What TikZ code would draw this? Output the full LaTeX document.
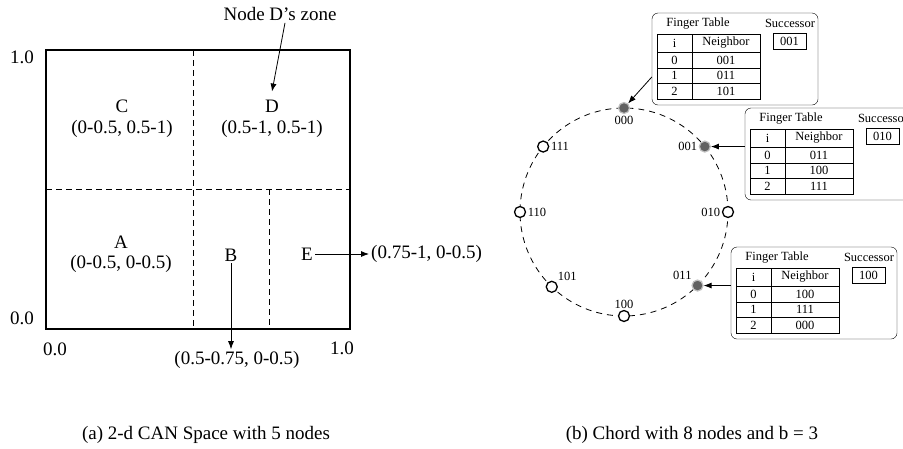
\documentclass[tikz,border=0pt]{standalone}
\usepackage{fontspec}
\setmainfont{Liberation Serif}
\usepackage{tikz}
\usetikzlibrary{arrows.meta}

\tikzset{
	canlbl/.style={font=\fontsize{19}{21}\selectfont, align=center, inner sep=2pt},
	chordlbl/.style={font=\fontsize{12.5}{14}\selectfont, inner sep=1.5pt},
	peer/.style={circle, draw, line width=1.3pt, fill=white, minimum size=11pt, inner sep=0pt},
	active/.style={circle, draw=black!25, line width=1.2pt, fill=black!62, minimum size=11pt, inner sep=0pt},
	ftbox/.style={draw, rounded corners=6pt, fill=white, minimum width=166pt, minimum height=92pt, inner sep=0pt},
	zone/.style={dash pattern=on 6pt off 4pt, line width=0.8pt},
}

\begin{document}
\begin{tikzpicture}[x=1pt,y=-1pt]
		\useasboundingbox (0,0) rectangle (903,448);

		% LEFT: 2-d CAN space
		\begin{scope}
			\draw[line width=1.3pt] (46,50) rectangle (350,329);
			\draw[zone] (193,50) -- (193,329);
			\draw[zone] (46,189) -- (350,189);
			\draw[zone] (269,189) -- (269,329);
			% axis values
			\node[canlbl] (y1) at (22,57) {1.0};
			\node[canlbl] (y0) at (22,318) {0.0};
			\node[canlbl] (x0) at (55,349) {0.0};
			\node[canlbl] (x1) at (342,348) {1.0};
			% zones
			\node[canlbl] (labC) at (122,106) {C};
			\node[canlbl] (rangeC) at (122,129) {(0-0.5, 0.5-1)};
			\node[canlbl] (labD) at (272,106) {D};
			\node[canlbl] (rangeD) at (272,129) {(0.5-1, 0.5-1)};
			\node[canlbl] (labA) at (121,242) {A};
			\node[canlbl] (rangeA) at (121,264) {(0-0.5, 0-0.5)};
			\node[canlbl] (labB) at (231,255) {B};
			\node[canlbl] (rangeB) at (237,360) {(0.5-0.75, 0-0.5)};
			\node[canlbl] (labE) at (307,254) {E};
			\node[canlbl, anchor=west] (rangeE) at (369,254) {(0.75-1, 0-0.5)};
			\node[canlbl] (zoneD) at (280,14) {Node D's zone};
			\draw[-{Latex[length=8pt,width=6pt]}, thick] ([xshift=5pt]zoneD.south) -- ([yshift=6pt]labD.north);
			\draw[-{Latex[length=8pt,width=6pt]}, thick] (labB.south) -- (labB.south |- rangeB.north);
			\draw[-{Latex[length=8pt,width=6pt]}, thick] (labE.east) -- (rangeE.west);
		\end{scope}

		% RIGHT: Chord ring
		\begin{scope}
			\draw[dash pattern=on 6pt off 5pt, line width=0.8pt] (624,212) circle (104pt);
			% ring nodes
			\foreach \id/\ang/\where/\kind in {000/90/below/active, 001/39/left/active, 010/0/left/peer,
				011/-45/above left/active, 100/-90/above/peer, 101/-134/above right/peer,
				110/180/right/peer, 111/141/right/peer}{
				\node[\kind, label={[chordlbl]\where:\id}] (n\id) at ({624+104*cos(\ang)},{212-104*sin(\ang)}) {};
			}
			% finger tables
			\foreach \k/\bx/\by/\succ/\na/\nb/\nc in {1/652/13/001/001/011/101, 2/745/108/010/011/100/111,
				3/731/247/100/100/111/000}{
				\begin{scope}[shift={(\bx,\by)}]
					\node[ftbox] (box\k) at (83,46) {};
					\node[chordlbl] (ft\k) at (46,11) {Finger Table};
					\node[chordlbl] (sl\k) at (138,10) {Successor};
					\draw (121,20) rectangle (154,36);
					\node[chordlbl] (sv\k) at (137.5,28) {\succ};
					\draw (5,21) rectangle (108,86);
					\foreach \ry in {39,55,70}{
						\draw (5,\ry) -- (108,\ry);
					}
					\draw (40,21) -- (40,86);
					\node[chordlbl] (hi\k) at (22.5,30) {i};
					\node[chordlbl] (hn\k) at (74,30) {Neighbor};
					\node[chordlbl] (i0\k) at (22.5,47) {0};
					\node[chordlbl] (v0\k) at (74,47) {\na};
					\node[chordlbl] (i1\k) at (22.5,62.5) {1};
					\node[chordlbl] (v1\k) at (74,62.5) {\nb};
					\node[chordlbl] (i2\k) at (22.5,78) {2};
					\node[chordlbl] (v2\k) at (74,78) {\nc};
				\end{scope}
			}
			\draw[-{Latex[length=8pt,width=6pt]}, thick] ([yshift=-18pt]box1.west) -- (n000);
			\draw[-{Latex[length=8pt,width=6pt]}, thick] (box2.west |- n001) -- (n001);
			\draw[-{Latex[length=8pt,width=6pt]}, thick] (box3.west |- n011) -- (n011);
		\end{scope}

		% captions
		\node[canlbl] (capA) at (206,435) {(a) 2-d CAN Space with 5 nodes};
		\node[canlbl] (capB) at (692,435) {(b) Chord with 8 nodes and b = 3};
	\end{tikzpicture}
\end{document}
